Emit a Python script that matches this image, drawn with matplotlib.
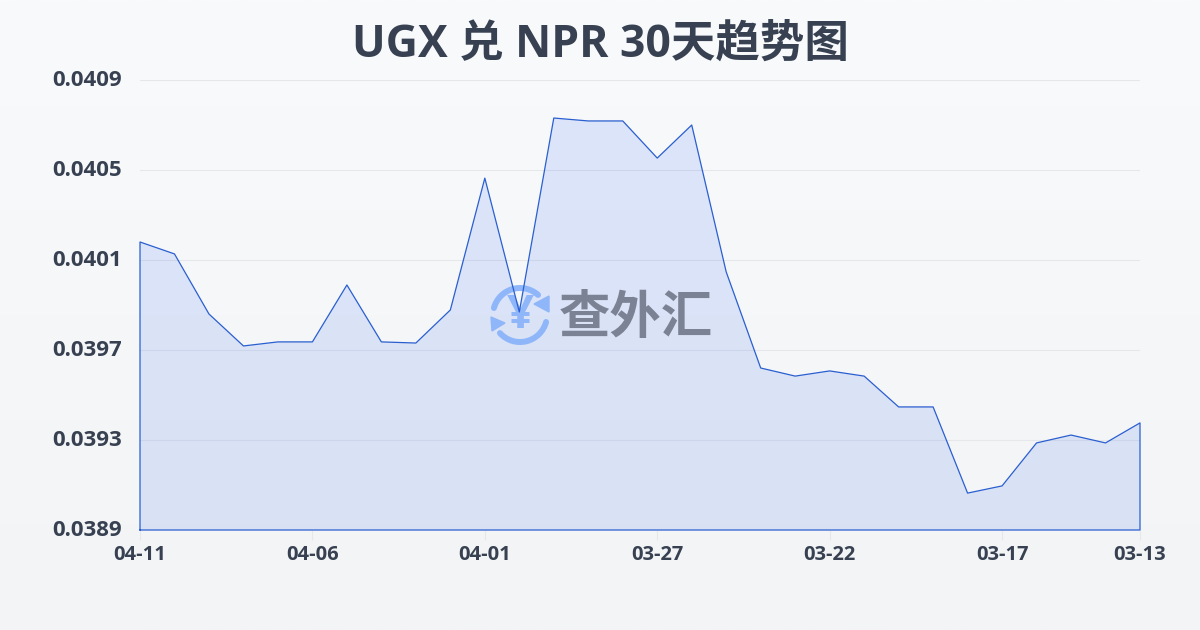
import matplotlib
matplotlib.use('Agg')
import matplotlib.pyplot as plt
from matplotlib.patches import Arc, Polygon
from matplotlib.transforms import ScaledTranslation
import numpy as np

plt.rcParams['font.family'] = ['Open Sans', 'Noto Sans CJK SC', 'DejaVu Sans']

dates = ['04-11', '04-10', '04-09', '04-08', '04-07', '04-06', '04-05', '04-04', '04-03', '04-02',
         '04-01', '03-31', '03-30', '03-29', '03-28', '03-27', '03-26', '03-25', '03-24', '03-23',
         '03-22', '03-21', '03-20', '03-19', '03-18', '03-17', '03-16', '03-15', '03-14', '03-13']
rates = [0.04018, 0.040127, 0.03986, 0.039718, 0.039736, 0.039736, 0.039989, 0.039736, 0.039731, 0.039878,
         0.040464, 0.039869, 0.040731, 0.040718, 0.040718, 0.040553, 0.0407, 0.040047, 0.03962, 0.039584,
         0.039607, 0.039584, 0.039447, 0.039447, 0.039064, 0.039096, 0.039287, 0.039322, 0.039287, 0.039376]
x_labels = ['04-11', '04-06', '04-01', '03-27', '03-22', '03-17', '03-13']
y_ticks = [0.0389, 0.0393, 0.0397, 0.0401, 0.0405, 0.0409]

dark = '#374151'
line_color = '#2a5fd0'
rect = [140 / 1200, 1 - 530 / 630, 1000 / 1200, 450 / 630]

fig = plt.figure(figsize=(12, 6.3), dpi=100)

# page background
bg = fig.add_axes([0, 0, 1, 1], zorder=0)
bg.imshow(np.linspace(0, 1, 256).reshape(-1, 1), aspect='auto', extent=[0, 1, 0, 1],
          cmap=matplotlib.colors.LinearSegmentedColormap.from_list('bg', ['#f9fafc', '#f3f4f6']))
bg.axis('off')

# area and grid, under the watermark
ax = fig.add_axes(rect, zorder=1)
ax.patch.set_alpha(0)
x = np.arange(len(dates))
ax.fill_between(x, rates, y_ticks[0], facecolor='#2563eb', alpha=0.13, edgecolor='none', zorder=3)
ax.set_xlim(0, len(dates) - 1)
ax.set_ylim(y_ticks[0], y_ticks[-1])
ax.set_yticks(y_ticks)
ax.set_yticklabels(['%.4f' % v for v in y_ticks], fontsize=16, fontweight='bold', color=dark)
ax.set_xticks([dates.index(d) for d in x_labels])
ax.set_xticklabels(x_labels, fontsize=14.5, fontweight='bold', color=dark)
ax.tick_params(axis='y', length=0, pad=13)
ax.tick_params(axis='x', length=7, width=0.8, color='#e5e7eb', pad=4)
ax.grid(axis='y', color='#e5e7eb', lw=0.8)
ax.set_axisbelow(True)
for s in ax.spines.values():
    s.set_visible(False)
# y labels sit a little above their grid lines
up = ScaledTranslation(0, 1.5 / 100, fig.dpi_scale_trans)
for lab in ax.get_yticklabels():
    lab.set_transform(lab.get_transform() + up)

fig.text(0.5, 1 - 45 / 630, 'UGX 兑 NPR 30天趋势图', ha='center', va='center',
         fontsize=32, fontweight='bold', color=dark)

# watermark
wm = fig.add_axes([0, 0, 1, 1], zorder=2)
wm.set_xlim(0, 1200)
wm.set_ylim(630, 0)
wm.axis('off')
logo = '#8fb6f8'
wm.add_patch(Arc((520, 315), 54, 54, theta1=195, theta2=312, color=logo, lw=4.3, capstyle='round'))
wm.add_patch(Arc((520, 315), 54, 54, theta1=15, theta2=138, color=logo, lw=4.3, capstyle='round'))
wm.add_patch(Polygon([(549, 296), (549, 312), (534, 304)], color=logo))
wm.add_patch(Polygon([(491, 317), (505, 323), (492, 331)], color=logo))
wm.text(520, 315, '¥', ha='center', va='center', fontsize=34, fontweight='bold', color=logo)
wm.text(636, 320, '查外汇', ha='center', va='center', fontsize=37, fontweight='bold', color='#7a8293')

# rate line stays above the watermark
top = fig.add_axes(rect, zorder=3)
top.patch.set_visible(False)
top.axis('off')
top.plot(np.r_[x[0], x, x[-1], x[0]], np.r_[y_ticks[0], rates, y_ticks[0], y_ticks[0]],
         color=line_color, lw=0.9, clip_on=False)
top.set_xlim(ax.get_xlim())
top.set_ylim(ax.get_ylim())

fig.savefig('out.png', dpi=100)
plt.close()
